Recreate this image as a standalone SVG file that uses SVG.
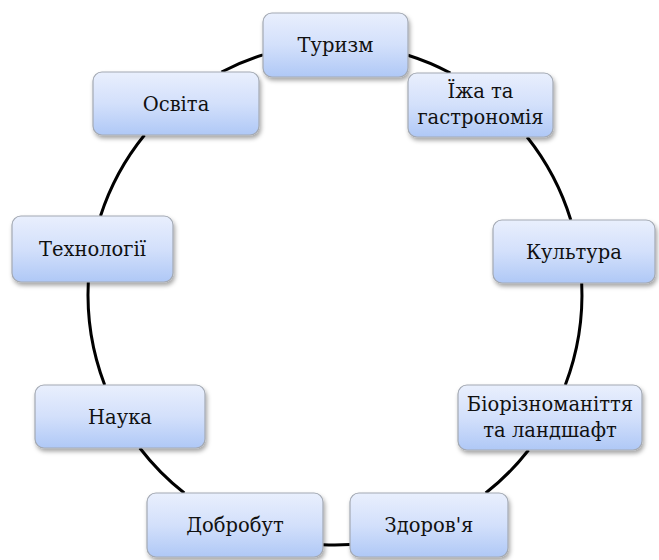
<svg xmlns="http://www.w3.org/2000/svg" width="659" height="560" viewBox="0 0 659 560">
<defs>
<linearGradient id="g" x1="0" y1="0" x2="0" y2="1">
<stop offset="0" stop-color="#e9effd"/>
<stop offset="0.5" stop-color="#d3e0fb"/>
<stop offset="1" stop-color="#afc8f6"/>
</linearGradient>
<filter id="sh" x="-10%" y="-10%" width="125%" height="135%">
<feDropShadow dx="1.5" dy="3" stdDeviation="2" flood-color="#000" flood-opacity="0.35"/>
</filter>
</defs>
<style>
.box{fill:url(#g);stroke:#a3a9b3;stroke-width:1.2;filter:url(#sh)}
.t{font-family:"DejaVu Serif","Liberation Serif","Times New Roman",serif;font-size:19.5px;fill:#111;text-anchor:middle}
.c{fill:none;stroke:#000;stroke-width:3}
</style>
<rect width="659" height="560" fill="#fff"/>
<g id="connectors">
<path class="c" d="M408,55.2 A247,250.5 0 0 1 450.4,73"/>
<path class="c" d="M527.1,137 A247,250.5 0 0 1 570.8,220"/>
<path class="c" d="M581.7,283 A247,250.5 0 0 1 565.3,385"/>
<path class="c" d="M528.6,450 A247,250.5 0 0 1 485.7,493"/>
<path class="c" d="M350,544.5 A247,250.5 0 0 1 323,544.7"/>
<path class="c" d="M184.3,493 A247,250.5 0 0 1 139.8,448"/>
<path class="c" d="M104.7,385 A247,250.5 0 0 1 88.3,282"/>
<path class="c" d="M100.5,216 A247,250.5 0 0 1 144.5,135"/>
<path class="c" d="M221.5,72 A247,250.5 0 0 1 263,54.9"/>
</g>
<g id="n1"><rect class="box" x="263" y="13" width="145" height="64" rx="9"/><text class="t" x="335.5" y="52">Туризм</text></g>
<g id="n2"><rect class="box" x="408" y="73" width="145" height="64" rx="9"/><text class="t" x="480.5" y="98">Їжа та</text><text class="t" x="480.5" y="124">гастрономія</text></g>
<g id="n3"><rect class="box" x="493" y="220" width="162" height="63" rx="9"/><text class="t" x="574" y="259">Культура</text></g>
<g id="n4"><rect class="box" x="458" y="385" width="184" height="65" rx="9"/><text class="t" x="550" y="411">Біорізноманіття</text><text class="t" x="550" y="437">та ландшафт</text></g>
<g id="n5"><rect class="box" x="350" y="493" width="158" height="64" rx="9"/><text class="t" x="429" y="532">Здоров'я</text></g>
<g id="n6"><rect class="box" x="147" y="493" width="176" height="64" rx="9"/><text class="t" x="235" y="532">Добробут</text></g>
<g id="n7"><rect class="box" x="35" y="385" width="170" height="63" rx="9"/><text class="t" x="120" y="424">Наука</text></g>
<g id="n8"><rect class="box" x="12" y="216" width="161" height="66" rx="9"/><text class="t" x="92.5" y="256">Технології</text></g>
<g id="n9"><rect class="box" x="93" y="72" width="166" height="63" rx="9"/><text class="t" x="176" y="111">Освіта</text></g>
</svg>
